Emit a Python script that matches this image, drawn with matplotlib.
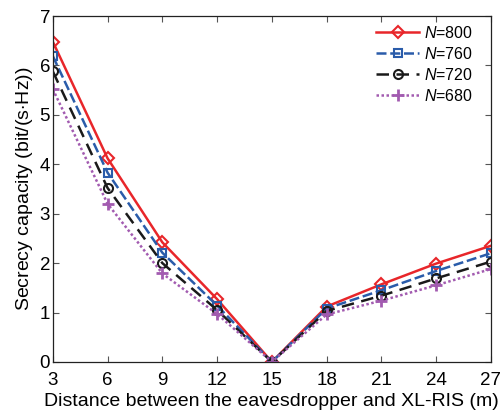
import numpy as np
import matplotlib.pyplot as plt

plt.rcParams['font.family'] = ['Liberation Sans', 'DejaVu Sans']
plt.rcParams['mathtext.fontset'] = 'custom'
plt.rcParams['mathtext.it'] = 'Liberation Sans:italic'
plt.rcParams['mathtext.rm'] = 'Liberation Sans'

# distance between eavesdropper and XL-RIS (m)
dist = [3, 6, 9, 12, 15, 18, 21, 24, 27]

# secrecy capacity (bit/(s*Hz)) per number of elements N
cap_800 = [6.48, 4.12, 2.42, 1.27, 0.0, 1.12, 1.57, 1.99, 2.35]
cap_760 = [6.19, 3.83, 2.21, 1.14, 0.0, 1.08, 1.45, 1.84, 2.20]
cap_720 = [5.88, 3.52, 2.00, 1.05, 0.0, 1.03, 1.34, 1.69, 2.03]
cap_680 = [5.52, 3.20, 1.79, 0.97, 0.0, 0.96, 1.24, 1.55, 1.88]

labels = [r'$N$=800', r'$N$=760', r'$N$=720', r'$N$=680']

fig = plt.figure(figsize=(5.03, 4.16), dpi=100)
ax = fig.add_axes([0.105, 0.13, 0.871, 0.8315])

ax.plot(dist, cap_800, color='#e8262a', ls='-', lw=1.8, marker='D', ms=6,
        mfc='none', mew=1.5, label=labels[0])
ax.plot(dist, cap_760, color='#2a5caa', ls=(0, (4, 1.5)), lw=1.8, marker='s', ms=6,
        mfc='none', mew=1.5, label=labels[1])
ax.plot(dist, cap_720, color='#1a1a1a', ls=(0, (5, 3)), lw=1.8, marker='o', ms=6.5,
        mfc='none', mew=1.5, label=labels[2])
ax.plot(dist, cap_680, color='#a25bb0', ls=(0, (1, 1)), lw=1.8, marker='+', ms=9,
        mew=2, label=labels[3])

ax.set_xlim(3, 27)
ax.set_ylim(0, 7)
ax.set_xticks(dist)
ax.set_yticks(range(0, 8))
ax.tick_params(direction='in', top=True, right=True, labelsize=13.5, length=4,
               color='#555555')
ax.tick_params(axis='x', pad=7)
ax.tick_params(axis='y', pad=2)
for s in ax.spines.values():
    s.set_color('#222222')
    s.set_linewidth(0.9)

ax.set_xlabel('Distance between the eavesdropper and XL-RIS (m)', fontsize=14, labelpad=3)
ax.set_ylabel(r'Secrecy capacity (bit/(s$\cdot$Hz))', fontsize=14, labelpad=3)

ax.legend(loc='upper right', bbox_to_anchor=(0.966, 0.984), fontsize=11.5,
          frameon=False, handlelength=2.7, borderaxespad=0, borderpad=0.2,
          labelspacing=0.32, handletextpad=0.3)

plt.savefig('out.png', dpi=100)
